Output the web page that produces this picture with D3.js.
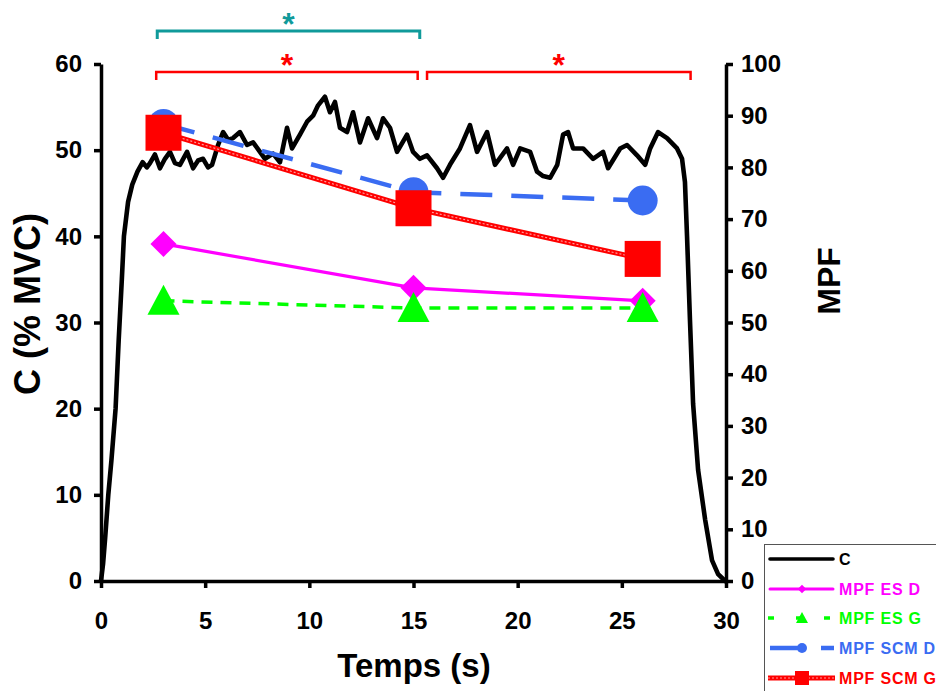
<!DOCTYPE html>
<html><head><meta charset="utf-8">
<script src="https://cdn.jsdelivr.net/npm/d3@7"></script>
<style>
html,body{margin:0;padding:0;background:#fff;}
svg{display:block;font-family:"Liberation Sans",Arial,sans-serif;font-weight:bold;}
</style></head>
<body><svg id="chart" width="936" height="691"></svg>
<script>
// ---- data ----
const forceTime = [0,0.1,0.2,0.35,0.5,0.7,0.85,1.0,1.1,1.3,1.5,1.75,2.0,2.2,
 2.35,2.59,2.83,3.07,3.31,3.55,3.79,4.13,4.42,4.66,4.9,5.14,5.33,5.62,5.86,6.1,6.34,6.67,7.01,7.3,7.63,7.87,8.26,8.59,8.93,9.17,9.55,9.89,10.18,10.42,10.75,10.99,11.23,11.47,11.81,12.1,12.43,12.82,13.25,13.54,13.87,14.21,14.69,14.98,15.31,15.65,16.13,16.42,16.75,17.23,17.71,18.05,18.53,18.91,19.49,19.78,20.12,20.6,20.93,21.22,21.56,21.9,22.18,22.42,22.66,23.14,23.62,24.1,24.34,24.92,25.25,25.73,26.12,26.36,26.74,27.17,27.65,27.89,28.03,28.13,28.27,28.42,28.66,29.0,29.33,29.62,29.96];
const forceC = [0,2,5,10,14,20,28,35,40,44,46,47.5,48.6,48.0,
 48.5,49.5,47.9,49.0,49.8,48.5,48.3,49.8,47.9,48.8,49.0,48.0,48.3,50.6,52.1,51.2,51.4,52.1,50.6,50.9,49.8,49.0,49.6,48.6,52.6,50.2,51.8,53.3,54.0,55.2,56.2,54.4,55.6,52.6,52.1,54.4,50.9,53.7,51.4,53.7,52.6,49.8,51.8,49.8,49.0,49.4,47.9,46.8,48.3,50.2,52.9,49.8,52.1,48.3,50.2,48.3,50.2,49.8,47.5,47.0,46.8,48.3,51.8,52.1,50.2,50.2,49.0,49.8,47.9,50.2,50.6,49.4,48.3,50.2,52.1,51.4,50.2,49.0,46.3,40,30.3,20.6,12.9,7.1,2.4,0.8,0];

const mpfTime = [3, 15, 26];
const mpfEsD  = [65.2, 56.7, 54.2];
const mpfEsG  = [54.2, 52.8, 52.8];
const mpfScmD = [88.4, 75.2, 73.6];
const mpfScmG = [86.7, 72.1, 62.3];

const xTicks = [0,5,10,15,20,25,30];
const yLeftTicks = [0,10,20,30,40,50,60];
const yRightTicks = [0,10,20,30,40,50,60,70,80,90,100];

const legendLabels = ["C","MPF ES D","MPF ES G","MPF SCM D","MPF SCM G"];

// ---- chart ----
const svg = d3.select("#chart");
const x = d3.scaleLinear().domain([0,30]).range([101,726]);
const yL = d3.scaleLinear().domain([0,60]).range([581,64]);
const yR = d3.scaleLinear().domain([0,100]).range([581,64]);

const cMagenta="#ff00ff", cGreen="#00ff00", cBlue="#3a6cf2", cRed="#ff0000", cTeal="#109a9a";

// force trace
const forceData = forceTime.map((t,i)=>({t, v:forceC[i]}));
svg.append("path").datum(forceData)
  .attr("fill","none").attr("stroke","#000").attr("stroke-width",4.6)
  .attr("stroke-linejoin","round").attr("stroke-linecap","round")
  .attr("d", d3.line().x(d=>x(d.t)).y(d=>yL(d.v)));

function series(vals){ return mpfTime.map((t,i)=>({t, v:vals[i]})); }
const lineR = d3.line().x(d=>x(d.t)).y(d=>yR(d.v));

// ES D
svg.append("path").datum(series(mpfEsD)).attr("fill","none").attr("stroke",cMagenta).attr("stroke-width",3.2).attr("d",lineR);
// ES G
svg.append("path").datum(series(mpfEsG)).attr("fill","none").attr("stroke",cGreen).attr("stroke-width",3.5).attr("stroke-dasharray","11,8").attr("d",lineR);
// SCM D
svg.append("path").datum(series(mpfScmD)).attr("fill","none").attr("stroke",cBlue).attr("stroke-width",4.5).attr("stroke-dasharray","32,19").attr("d",lineR);
// SCM G
svg.append("path").datum(series(mpfScmG)).attr("fill","none").attr("stroke",cRed).attr("stroke-width",5).attr("d",lineR);
svg.append("path").datum(series(mpfScmG)).attr("fill","none").attr("stroke","#ff9a9a").attr("stroke-width",1.2).attr("stroke-dasharray","2,2").attr("d",lineR);

// markers
svg.selectAll(".mD").data(series(mpfEsD)).join("path")
  .attr("transform",d=>`translate(${x(d.t)},${yR(d.v)}) rotate(45)`)
  .attr("d", d3.symbol().type(d3.symbolSquare).size(340)).attr("fill",cMagenta);
svg.selectAll(".mG").data(series(mpfEsG)).join("path")
  .attr("transform",d=>`translate(${x(d.t)},${yR(d.v)})`)
  .attr("d", "M0,-16 L16,14 L-16,14 Z").attr("fill",cGreen);
svg.selectAll(".mB").data(series(mpfScmD)).join("circle")
  .attr("cx",d=>x(d.t)).attr("cy",d=>yR(d.v)).attr("r",15).attr("fill",cBlue);
svg.selectAll(".mR").data(series(mpfScmG)).join("rect")
  .attr("x",d=>x(d.t)-18).attr("y",d=>yR(d.v)-18).attr("width",36).attr("height",36).attr("fill",cRed);

// axes
const axisStyle = g => {
  g.selectAll(".domain").attr("stroke","#000").attr("stroke-width",3.5);
  g.selectAll(".tick line").attr("stroke","#000").attr("stroke-width",3.5);
  g.selectAll(".tick text").attr("fill","#000").style("font-size","24px").style("font-weight","bold")
   .style("font-family","'Liberation Sans',Arial,sans-serif");
};
svg.append("g").attr("transform","translate(0,581)")
  .call(d3.axisBottom(x).tickValues(xTicks).tickSize(7).tickSizeOuter(0).tickPadding(24).tickFormat(d3.format("d")))
  .call(axisStyle);
svg.append("g").attr("transform","translate(101,0)")
  .call(d3.axisLeft(yL).tickValues(yLeftTicks).tickSize(7).tickSizeOuter(0).tickPadding(12).tickFormat(d3.format("d")))
  .call(axisStyle);
svg.append("g").attr("transform","translate(726,0)")
  .call(d3.axisRight(yR).tickValues(yRightTicks).tickSize(7).tickSizeOuter(0).tickPadding(8).tickFormat(d3.format("d")))
  .call(axisStyle);

// titles
svg.append("text").attr("x",414).attr("y",677).attr("text-anchor","middle").style("font-size","33px").text("Temps (s)");
svg.append("text").attr("transform","translate(40,304) rotate(-90)").attr("text-anchor","middle").style("font-size","36px").text("C (% MVC)");
svg.append("text").attr("transform","translate(840,281) rotate(-90)").attr("text-anchor","middle").style("font-size","32px").text("MPF");

// significance brackets
function bracket(x1,x2,y,color,w,starY){
  svg.append("path").attr("fill","none").attr("stroke",color).attr("stroke-width",w)
    .attr("d",`M${x1},${y+8}V${y}H${x2}V${y+8}`);
  svg.append("text").attr("x",(x1+x2)/2).attr("y",starY).attr("text-anchor","middle")
    .attr("fill",color).style("font-size","32px").text("*");
}
bracket(x(2.7),x(15.3),31,cTeal,3,35);
bracket(x(2.65),x(15.2),72,cRed,2.5,76);
bracket(x(15.65),x(28.3),72,cRed,2.5,76);

// legend
const lg = svg.append("g");
lg.append("rect").attr("x",764.5).attr("y",544.5).attr("width",180).attr("height",160)
  .attr("fill","#fff").attr("stroke","#555").attr("stroke-width",1);
const rowY = [559,589,618,648,678];
const legColors = ["#000",cMagenta,cGreen,cBlue,cRed];
legendLabels.forEach((lab,i)=>{
  const yy=rowY[i];
  if(i===0){ lg.append("line").attr("x1",770).attr("x2",833).attr("y1",yy).attr("y2",yy).attr("stroke","#000").attr("stroke-width",3.6).attr("stroke-linecap","round"); }
  if(i===1){ lg.append("line").attr("x1",770).attr("x2",833).attr("y1",yy).attr("y2",yy).attr("stroke",cMagenta).attr("stroke-width",3).attr("stroke-linecap","round");
    lg.append("path").attr("transform",`translate(802,${yy}) rotate(45)`).attr("d",d3.symbol().type(d3.symbolSquare).size(36)).attr("fill",cMagenta); }
  if(i===2){ lg.append("line").attr("x1",768).attr("x2",835).attr("y1",yy).attr("y2",yy).attr("stroke",cGreen).attr("stroke-width",3.5).attr("stroke-dasharray","6,22");
    lg.append("path").attr("transform",`translate(802,${yy})`).attr("d","M0,-6 L6,5 L-6,5 Z").attr("fill",cGreen); }
  if(i===3){ lg.append("line").attr("x1",770).attr("x2",834).attr("y1",yy).attr("y2",yy).attr("stroke",cBlue).attr("stroke-width",4.5).attr("stroke-dasharray","32,19");
    lg.append("circle").attr("cx",802).attr("cy",yy).attr("r",5).attr("fill",cBlue); }
  if(i===4){ lg.append("line").attr("x1",768).attr("x2",835).attr("y1",yy).attr("y2",yy).attr("stroke",cRed).attr("stroke-width",5);
    lg.append("line").attr("x1",768).attr("x2",835).attr("y1",yy).attr("y2",yy).attr("stroke","#ff9a9a").attr("stroke-width",1.2).attr("stroke-dasharray","2,2");
    lg.append("rect").attr("x",795).attr("y",yy-7).attr("width",14).attr("height",14).attr("fill",cRed); }
  lg.append("text").attr("x",839).attr("y",yy+6).attr("fill",legColors[i]).style("font-size","16px").style("letter-spacing","0.8px").text(lab);
});
</script></body></html>
